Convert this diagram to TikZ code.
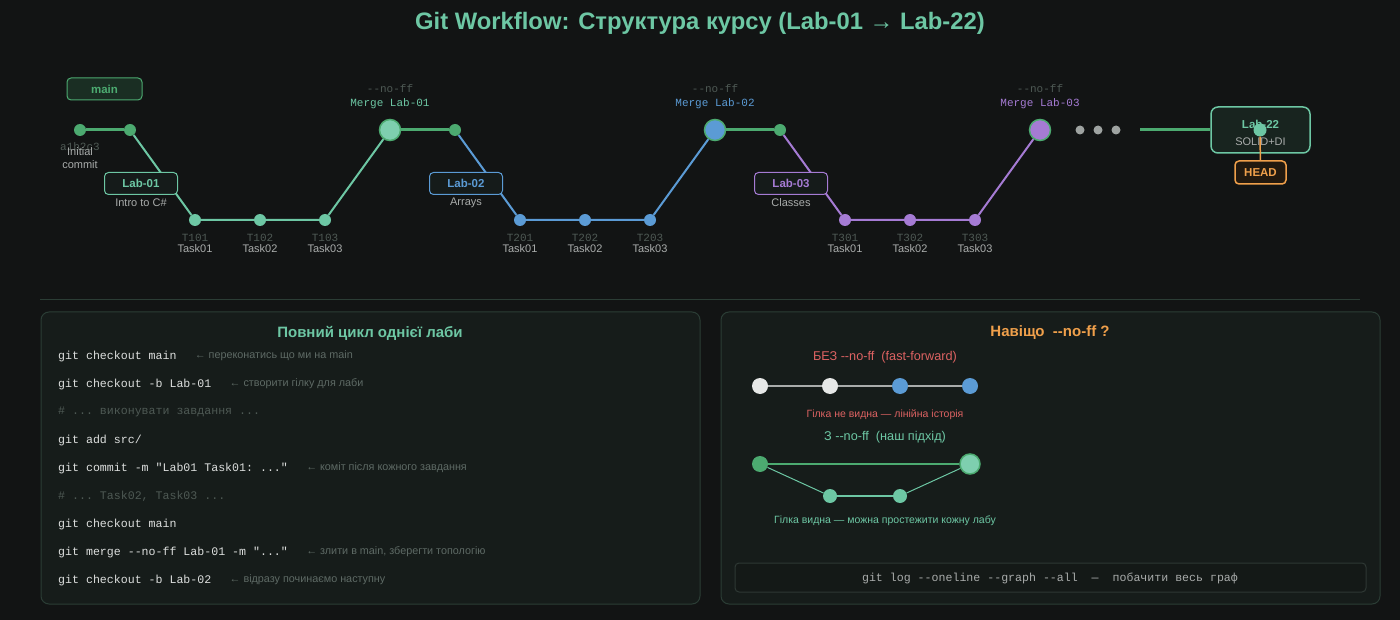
\documentclass[tikz,border=0pt]{standalone}
\usepackage{fontspec}
\setmainfont{Liberation Sans}
\setmonofont{Liberation Mono}
\usetikzlibrary{positioning}

\definecolor{bgdark}{HTML}{121414}
\definecolor{panelfill}{HTML}{161C1A}
\definecolor{panelline}{HTML}{2B3D35}
\definecolor{mint}{HTML}{6DC7A4}
\definecolor{mintlight}{HTML}{7ECFAF}
\definecolor{gitgreen}{HTML}{4CAA70}
\definecolor{gitblue}{HTML}{5B9BD5}
\definecolor{gitpurple}{HTML}{A57BD4}
\definecolor{gitorange}{HTML}{F0A04B}
\definecolor{gitred}{HTML}{DC6262}
\definecolor{labelgray}{HTML}{A9ACAB}
\definecolor{dimgray}{HTML}{4E5954}
\definecolor{notegray}{HTML}{5E6A65}
\definecolor{codewhite}{HTML}{DDDFDE}
\definecolor{dotgray}{HTML}{9EA3A1}
\definecolor{boxfill}{HTML}{151B1A}
\definecolor{mainfill}{HTML}{1A2E23}
\definecolor{lab22fill}{HTML}{18241F}
\definecolor{headfill}{HTML}{22190F}
\definecolor{ffwhite}{HTML}{E6E8E7}
\definecolor{cmdfill}{HTML}{141917}
\definecolor{cmdline}{HTML}{2E3834}

\tikzset{
  commit/.style={circle,inner sep=0pt,minimum size=12pt},
  mergecommit/.style={circle,inner sep=0pt,minimum size=21pt,draw=gitgreen,line width=1.5pt},
  labbox/.style={draw,rounded corners=4pt,fill=boxfill,line width=1pt,minimum width=73pt,
    minimum height=22pt,inner sep=0pt,font=\bfseries\fontsize{11.5}{13}\selectfont},
  mainline/.style={gitgreen,line width=3pt},
  branchline/.style={line width=2pt},
  sub/.style={text=labelgray,inner sep=0pt,font=\fontsize{11}{13}\selectfont},
  hash/.style={text=dimgray,inner sep=0pt,font=\ttfamily\fontsize{11}{13}\selectfont},
  code/.style={anchor=west,inner sep=0pt,text=codewhite,font=\ttfamily\fontsize{11.6}{13}\selectfont},
  note/.style={anchor=west,inner sep=0pt,text=notegray,font=\fontsize{10.8}{12}\selectfont},
  panel/.style={draw=panelline,fill=panelfill,line width=1pt,rounded corners=8pt},
  ptitle/.style={font=\bfseries\fontsize{15}{17}\selectfont},
  small/.style={inner sep=0pt,font=\fontsize{10.5}{12}\selectfont},
}

\begin{document}
\begin{tikzpicture}[x=1pt,y=-1pt]

% Background
\useasboundingbox (0,0) rectangle (1400,620);
\fill[bgdark] (0,0) rectangle (1400,620);

% Title
\node[font=\bfseries\fontsize{23.8}{26}\selectfont,text=mint] (title) at (700,23)
  {Git Workflow: Структура курсу (Lab-01 → Lab-22)};

% main branch
\node[commit,fill=gitgreen] (init) at (80,130) {};
\foreach \x [count=\k from 0] in {130,455,780}
  \node[commit,fill=gitgreen] (m\k) at (\x,130) {};
\draw[mainline] (init) -- (m0);
\node[hash] (hash0) at (80,147) {a1b2c3};
\node[sub,align=center] (initlbl) at (80,158) {Initial\\commit};
\node[labbox,draw=gitgreen,fill=mainfill,text=gitgreen,minimum width=75pt] (mainlbl) at (104.5,89) {main};

% Labs 01..03
\foreach \col/\fillc/\topic [count=\k] in {mint/mintlight/Intro to C\#,gitblue/gitblue/Arrays,gitpurple/gitpurple/Classes} {
  \pgfmathtruncatemacro{\p}{\k-1}
  \pgfmathsetmacro{\xs}{130+325*\p}
  % tasks
  \foreach \t in {1,2,3} {
    \node[commit,fill=\col] (t\k\t) at (\xs+65*\t,220) {};
    \node[hash] (tid\k\t) at (\xs+65*\t,237.5) {T\k0\t};
    \node[sub] (tname\k\t) at (\xs+65*\t,248.5) {Task0\t};
  }
  % merge back into main
  \node[mergecommit,fill=\fillc] (mg\k) at (\xs+260,130) {};
  \node[hash] (noff\k) at (\xs+260,89) {-{}-no-ff};
  \node[hash,text=\col] (mglbl\k) at (\xs+260,104) {Merge Lab-0\k};
  \draw[branchline,color=\col] (m\p) -- (t\k1) -- (t\k2) -- (t\k3) -- (mg\k);
  % branch label
  \node[labbox,draw=\col,text=\col] (lab\k) at (\xs+11,183.5) {Lab-0\k};
  \node[sub] (topic\k) at (\xs+11,203) {\topic};
}
\draw[mainline] (mg1) -- (m1);
\draw[mainline] (mg2) -- (m2);

% ... up to Lab-22
\foreach \x [count=\d] in {1080,1098,1116}
  \node[circle,fill=dotgray,inner sep=0pt,minimum size=9pt] (dot\d) at (\x,130) {};
\node[draw=mint,line width=1.5pt,rounded corners=7pt,fill=lab22fill,minimum width=99pt,
  minimum height=46pt] (lab22) at (1260.5,130) {};
\coordinate (tailstart) at (1140,130);
\draw[mainline] (tailstart) -- (lab22);
\node[font=\bfseries\fontsize{11.5}{13}\selectfont,text=mint,inner sep=0pt] (lab22t) at (1260.5,124) {Lab-22};
\node[sub] (lab22s) at (1260.5,142) {SOLID+DI};
\node[commit,fill=mint,minimum size=13pt] (tip) at (1260,130) {};
\node[labbox,draw=gitorange,fill=headfill,text=gitorange,minimum width=51pt,minimum height=23pt,
  line width=1.5pt] (head) at (1260.5,172.5) {HEAD};
\draw[gitorange,line width=1.5pt] (tip) -- (head);

% Separator
\draw[panelline,line width=1pt] (40,300) -- (1360,300);

% Left panel: one lab cycle
\draw[panel] (41,312) rectangle (700,604);
\node[ptitle,text=mint] (cycletitle) at (370,333) {Повний цикл однієї лаби};
\node[code] (c1) at (58,356) {git checkout main};
\node[note,right=18pt of c1] (n1) {← переконатись що ми на main};
\node[code] (c2) at (58,384) {git checkout -b Lab-01};
\node[note,right=18pt of c2] (n2) {← створити гілку для лаби};
\node[code,text=dimgray] (c3) at (58,412) {\# ... виконувати завдання ...};
\node[code] (c4) at (58,440) {git add src/};
\node[code] (c5) at (58,468) {git commit -m "Lab01 Task01: ..."};
\node[note,right=18pt of c5] (n5) {← коміт після кожного завдання};
\node[code,text=dimgray] (c6) at (58,496) {\# ... Task02, Task03 ...};
\node[code] (c7) at (58,524) {git checkout main};
\node[code] (c8) at (58,552) {git merge -{}-no-ff Lab-01 -m "..."};
\node[note,right=18pt of c8] (n8) {← злити в main, зберегти топологію};
\node[code] (c9) at (58,580) {git checkout -b Lab-02};
\node[note,right=18pt of c9] (n9) {← відразу починаємо наступну};

% Right panel: why --no-ff
\draw[panel] (721,312) rectangle (1380,604);
\node[ptitle,text=gitorange] (whytitle) at (1050,333) {Навіщо\ \ -{}-no-ff ?};

% fast-forward
\node[inner sep=0pt,font=\fontsize{12.7}{15}\selectfont,text=gitred] (fftitle) at (885,357.5)
  {БЕЗ -{}-no-ff\ \ (fast-forward)};
\foreach \x/\c [count=\i] in {760/ffwhite,830/ffwhite,900/gitblue,970/gitblue}
  \node[circle,fill=\c,inner sep=0pt,minimum size=16pt] (ff\i) at (\x,386) {};
\draw[labelgray,line width=2pt] (ff1) -- (ff2) -- (ff3) -- (ff4);
\node[small,text=gitred] (ffnote) at (885,415) {Гілка не видна — лінійна історія};

% no fast-forward
\node[inner sep=0pt,font=\fontsize{12.7}{15}\selectfont,text=mint] (nofftitle) at (885,437)
  {З -{}-no-ff\ \ (наш підхід)};
\node[circle,fill=gitgreen,inner sep=0pt,minimum size=16pt] (nf1) at (760,464) {};
\node[mergecommit,fill=mintlight,minimum size=20pt] (nf4) at (970,464) {};
\node[circle,fill=mint,inner sep=0pt,minimum size=14pt] (nf2) at (830,496) {};
\node[circle,fill=mint,inner sep=0pt,minimum size=14pt] (nf3) at (900,496) {};
\draw[gitgreen,line width=2.5pt] (nf1) -- (nf4);
\draw[mint,line width=1pt] (nf1) -- (nf2);
\draw[mint,line width=2.5pt] (nf2) -- (nf3);
\draw[mint,line width=1pt] (nf3) -- (nf4);
\node[small,text=mint] (noffnote) at (885,521) {Гілка видна — можна простежити кожну лабу};

% git log hint
\node[draw=cmdline,line width=1pt,fill=cmdfill,rounded corners=4pt,minimum width=631pt,minimum height=29pt]
  (logbox) at (1050.5,577.5) {};
\node[code,anchor=center,text=labelgray] (logcmd) at (1050,578)
  {git log -{}-oneline -{}-graph -{}-all~~—~~побачити весь граф};

\end{tikzpicture}
\end{document}
